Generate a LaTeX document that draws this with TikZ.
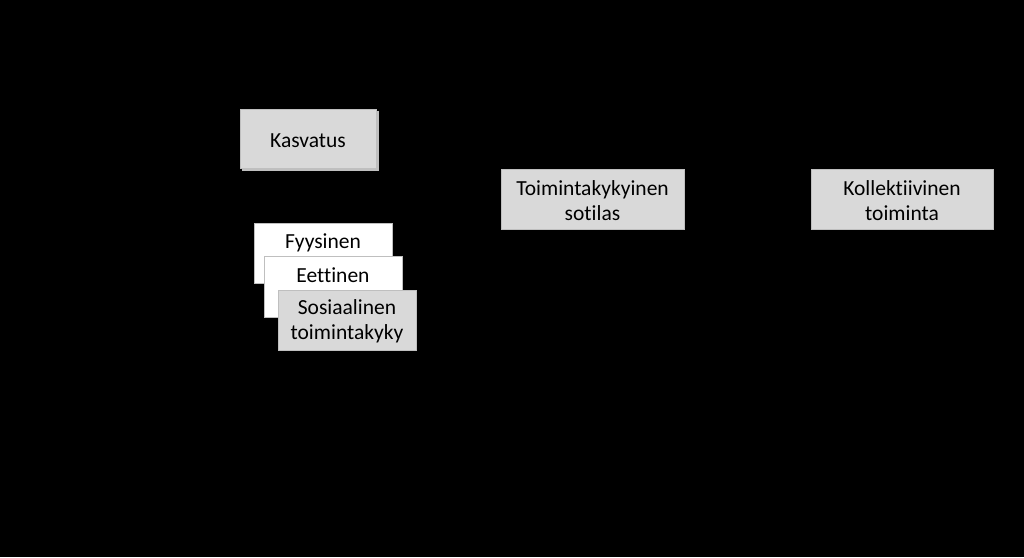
\documentclass[tikz,border=0pt]{standalone}
\usepackage{fontspec}
\setmainfont{Carlito}[RawFeature={-liga}]
\definecolor{boxgray}{HTML}{D9D9D9}
\definecolor{edgegray}{HTML}{BFBFBF}
\begin{document}
\begin{tikzpicture}[x=1pt,y=-1pt,
  txt/.style={font=\fontsize{21.5}{25}\selectfont, align=center, text=black, inner sep=0pt},
  graybox/.style={fill=boxgray, draw=edgegray, line width=0.8pt},
  whitebox/.style={fill=white, draw=edgegray, line width=0.8pt}]
\fill[black] (0,0) rectangle (1024,557);
\useasboundingbox (0,0) rectangle (1024,557);
% Kasvatus with shadow edge
\draw[edgegray, line width=1.5pt] (242,170) -- (378,170) -- (378,111);
\draw[graybox] (240,109) rectangle (376,168);
\node[txt] (kasvatus) at (308,141) {Kasvatus};
% stacked boxes
\draw[whitebox] (254,223) rectangle (392,283);
\node[txt] (fyys) at (323,243) {Fyysinen};
\draw[whitebox] (264,256) rectangle (402,317);
\node[txt] (eet) at (333,275) {Eettinen};
\draw[graybox] (278,290) rectangle (416,350);
\node[txt] (sos) at (347,321.5) {Sosiaalinen\\toimintakyky};
% right boxes
\draw[graybox] (501,169) rectangle (684,229);
\node[txt] (sotilas) at (592.5,200.5) {Toimintakykyinen\\sotilas};
\draw[graybox] (811,169) rectangle (993,229);
\node[txt] (koll) at (902,200.5) {Kollektiivinen\\toiminta};
\end{tikzpicture}
\end{document}
